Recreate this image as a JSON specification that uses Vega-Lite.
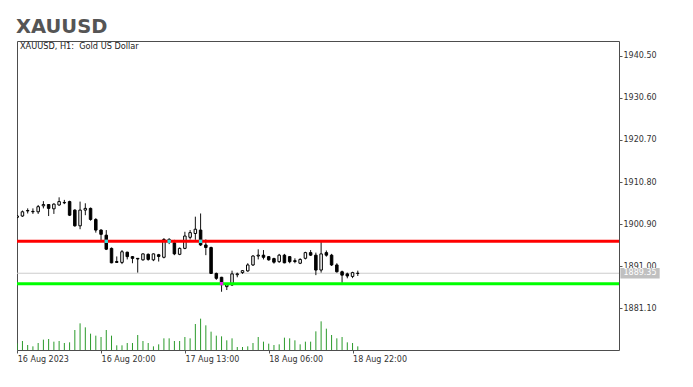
{
  "$schema": "https://vega.github.io/schema/vega-lite/v6.json",
  "width": 602,
  "height": 309,
  "autosize": "none",
  "padding": {"left": 17, "top": 41, "right": 74, "bottom": 37},
  "background": "white",
  "title": {"text": "XAUUSD", "anchor": "start", "frame": "group", "font": "DejaVu Sans", "fontSize": 19.5, "fontWeight": "bold", "color": "#555555", "offset": 4, "dx": -1},
  "config": {
    "font": "DejaVu Sans",
    "view": {"stroke": "#4d4d4d", "strokeWidth": 1},
    "scale": {"continuousPadding": 0},
    "axis": {"labelFont": "DejaVu Sans", "labelFontSize": 8, "labelColor": "#333333", "tickColor": "#555555", "domain": false, "grid": false}
  },
  "datasets": {
    "bars": [
      {"j":0,"o":1902.5,"h":1903.0,"l":1902.3,"c":1902.8,"v":500},
      {"j":1,"o":1902.8,"h":1904.1,"l":1902.6,"c":1903.8,"v":675},
      {"j":2,"o":1904.0,"h":1904.6,"l":1903.4,"c":1904.1,"v":375},
      {"j":3,"o":1903.9,"h":1904.6,"l":1903.3,"c":1903.8,"v":275},
      {"j":4,"o":1903.8,"h":1905.4,"l":1903.3,"c":1905.0,"v":525},
      {"j":5,"o":1905.2,"h":1906.3,"l":1904.6,"c":1905.5,"v":775},
      {"j":6,"o":1905.5,"h":1905.6,"l":1902.8,"c":1904.6,"v":825},
      {"j":7,"o":1904.5,"h":1905.8,"l":1903.3,"c":1905.6,"v":625},
      {"j":8,"o":1905.4,"h":1907.2,"l":1905.2,"c":1906.2,"v":675},
      {"j":9,"o":1906.0,"h":1906.6,"l":1905.6,"c":1905.9,"v":525},
      {"j":10,"o":1906.2,"h":1906.4,"l":1902.8,"c":1903.0,"v":575},
      {"j":11,"o":1904.2,"h":1904.4,"l":1900.3,"c":1900.5,"v":1500},
      {"j":12,"o":1900.5,"h":1906.2,"l":1899.7,"c":1904.2,"v":2000},
      {"j":13,"o":1904.2,"h":1905.8,"l":1903.0,"c":1904.6,"v":1700},
      {"j":14,"o":1904.6,"h":1904.8,"l":1901.7,"c":1902.0,"v":1225},
      {"j":15,"o":1902.0,"h":1902.3,"l":1898.9,"c":1899.5,"v":1075},
      {"j":16,"o":1899.5,"h":1899.7,"l":1896.8,"c":1898.5,"v":975},
      {"j":17,"o":1898.3,"h":1899.5,"l":1894.8,"c":1895.0,"v":1500},
      {"j":18,"o":1895.2,"h":1895.4,"l":1891.7,"c":1891.8,"v":1075},
      {"j":19,"o":1892.1,"h":1893.3,"l":1891.8,"c":1891.9,"v":350},
      {"j":20,"o":1891.9,"h":1894.8,"l":1891.5,"c":1894.4,"v":350},
      {"j":21,"o":1894.3,"h":1894.4,"l":1892.6,"c":1893.25,"v":525},
      {"j":22,"o":1893.25,"h":1893.4,"l":1891.7,"c":1892.85,"v":525},
      {"j":23,"o":1892.85,"h":1892.9,"l":1889.5,"c":1892.7,"v":1125},
      {"j":24,"o":1892.5,"h":1894.0,"l":1892.3,"c":1893.9,"v":675},
      {"j":25,"o":1893.8,"h":1894.0,"l":1892.3,"c":1892.6,"v":525},
      {"j":26,"o":1892.5,"h":1894.0,"l":1892.2,"c":1893.9,"v":275},
      {"j":27,"o":1893.7,"h":1893.9,"l":1892.1,"c":1893.3,"v":425},
      {"j":28,"o":1893.1,"h":1897.6,"l":1892.85,"c":1897.3,"v":875},
      {"j":29,"o":1897.3,"h":1897.6,"l":1896.2,"c":1896.6,"v":875},
      {"j":30,"o":1896.5,"h":1897.2,"l":1893.6,"c":1893.9,"v":675},
      {"j":31,"o":1893.8,"h":1895.4,"l":1893.6,"c":1895.2,"v":675},
      {"j":32,"o":1895.2,"h":1899.1,"l":1895.0,"c":1898.1,"v":975},
      {"j":33,"o":1897.8,"h":1899.5,"l":1897.3,"c":1898.9,"v":875},
      {"j":34,"o":1898.7,"h":1902.65,"l":1897.2,"c":1899.7,"v":1950},
      {"j":35,"o":1899.5,"h":1903.4,"l":1895.75,"c":1896.0,"v":2350},
      {"j":36,"o":1896.0,"h":1897.3,"l":1893.6,"c":1895.4,"v":1850},
      {"j":37,"o":1895.4,"h":1895.6,"l":1889.2,"c":1889.3,"v":1375},
      {"j":38,"o":1889.3,"h":1889.5,"l":1887.8,"c":1888.15,"v":1075},
      {"j":39,"o":1888.4,"h":1888.5,"l":1885.0,"c":1886.8,"v":1025},
      {"j":40,"o":1886.2,"h":1887.0,"l":1885.4,"c":1886.6,"v":725},
      {"j":41,"o":1886.6,"h":1889.95,"l":1886.35,"c":1889.2,"v":875},
      {"j":42,"o":1889.0,"h":1889.5,"l":1888.4,"c":1889.2,"v":225},
      {"j":43,"o":1889.5,"h":1890.1,"l":1889.2,"c":1889.95,"v":225},
      {"j":44,"o":1889.9,"h":1891.7,"l":1889.7,"c":1891.3,"v":275},
      {"j":45,"o":1891.3,"h":1893.6,"l":1891.05,"c":1893.4,"v":525},
      {"j":46,"o":1893.4,"h":1894.97,"l":1892.6,"c":1893.6,"v":975},
      {"j":47,"o":1893.6,"h":1894.8,"l":1892.6,"c":1893.1,"v":625},
      {"j":48,"o":1893.25,"h":1893.4,"l":1892.3,"c":1892.5,"v":475},
      {"j":49,"o":1892.8,"h":1893.0,"l":1891.6,"c":1891.95,"v":375},
      {"j":50,"o":1892.07,"h":1893.9,"l":1891.8,"c":1893.6,"v":425},
      {"j":51,"o":1893.6,"h":1893.9,"l":1891.7,"c":1891.8,"v":925},
      {"j":52,"o":1893.25,"h":1893.4,"l":1891.7,"c":1892.07,"v":875},
      {"j":53,"o":1892.3,"h":1892.86,"l":1891.7,"c":1892.1,"v":725},
      {"j":54,"o":1891.7,"h":1892.86,"l":1891.5,"c":1892.6,"v":425},
      {"j":55,"o":1892.86,"h":1894.4,"l":1892.6,"c":1894.2,"v":625},
      {"j":56,"o":1894.2,"h":1894.8,"l":1893.4,"c":1893.6,"v":625},
      {"j":57,"o":1893.6,"h":1894.2,"l":1888.9,"c":1890.1,"v":1400},
      {"j":58,"o":1890.1,"h":1896.8,"l":1889.5,"c":1893.9,"v":2150},
      {"j":59,"o":1894.2,"h":1894.7,"l":1893.25,"c":1893.6,"v":1600},
      {"j":60,"o":1893.6,"h":1893.9,"l":1891.05,"c":1891.3,"v":1125},
      {"j":61,"o":1891.3,"h":1891.7,"l":1889.5,"c":1889.7,"v":875},
      {"j":62,"o":1889.7,"h":1889.96,"l":1887.1,"c":1888.9,"v":975},
      {"j":63,"o":1889.2,"h":1889.5,"l":1888.16,"c":1888.7,"v":575},
      {"j":64,"o":1888.6,"h":1889.7,"l":1888.2,"c":1889.5,"v":525},
      {"j":65,"o":1889.3,"h":1889.96,"l":1888.7,"c":1889.35,"v":275}
    ],
    "levels": [
      {"level": "resistance", "price": 1896.86},
      {"level": "support", "price": 1886.9}
    ],
    "touches": [
      {"j": 17, "p": 1896.86, "kind": "resistance"},
      {"j": 29, "p": 1896.86, "kind": "resistance"},
      {"j": 35, "p": 1896.86, "kind": "resistance"},
      {"j": 39, "p": 1886.9, "kind": "support"}
    ],
    "last": [{"price": 1889.35}],
    "caption": [{"label": "XAUUSD, H1:\u00a0 Gold US Dollar"}]
  },
  "resolve": {"scale": {"y": "independent"}},
  "layer": [
    {
      "data": {"name": "bars"},
      "mark": {"type": "rule", "color": "#2a9a2a", "strokeWidth": 1, "clip": true},
      "encoding": {
        "x": {"field": "j", "type": "quantitative", "scale": {"domain": [-0.038, 114.85], "nice": false, "zero": false, "padding": 0},
              "axis": {"values": [0, 16, 32, 48, 64], "title": null, "tickSize": 3, "labelAlign": "left", "labelBaseline": "top", "labelPadding": 2, "labelFlush": false,
                       "labelExpr": "datum.value == 0 ? '16 Aug 2023' : datum.value == 16 ? '16 Aug 20:00' : datum.value == 32 ? '17 Aug 13:00' : datum.value == 48 ? '18 Aug 06:00' : '18 Aug 22:00'"}},
        "y": {"field": "v", "type": "quantitative", "scale": {"domain": [0, 23175], "nice": false, "padding": 0}, "axis": null},
        "y2": {"datum": 0}
      }
    },
    {
      "layer": [
        {
          "data": {"name": "last"},
          "mark": {"type": "rule", "color": "#cccccc", "strokeWidth": 1},
          "encoding": {
            "y": {"field": "price", "type": "quantitative", "scale": {"domain": [1871.30, 1943.96], "nice": false, "zero": false, "padding": 0},
                  "axis": {"orient": "right", "title": null, "values": [1881.1, 1891.0, 1900.9, 1910.8, 1920.7, 1930.6, 1940.5], "format": ".2f", "tickSize": 3, "labelPadding": 1, "labelBaseline": "middle", "labelFlush": false}}
          }
        },
        {
          "data": {"name": "bars"},
          "mark": {"type": "rule", "color": "#111111", "strokeWidth": 1, "clip": true},
          "encoding": {
            "x": {"field": "j", "type": "quantitative", "scale": {"domain": [-0.038, 114.85], "nice": false, "zero": false, "padding": 0},
                  "axis": {"values": [0, 16, 32, 48, 64], "title": null, "tickSize": 3, "labelAlign": "left", "labelBaseline": "top", "labelPadding": 2, "labelFlush": false,
                           "labelExpr": "datum.value == 0 ? '16 Aug 2023' : datum.value == 16 ? '16 Aug 20:00' : datum.value == 32 ? '17 Aug 13:00' : datum.value == 48 ? '18 Aug 06:00' : '18 Aug 22:00'"}},
            "y": {"field": "l", "type": "quantitative", "scale": {"domain": [1871.30, 1943.96], "nice": false, "zero": false, "padding": 0},
                  "axis": {"orient": "right", "title": null, "values": [1881.1, 1891.0, 1900.9, 1910.8, 1920.7, 1930.6, 1940.5], "format": ".2f", "tickSize": 3, "labelPadding": 1, "labelBaseline": "middle", "labelFlush": false}},
            "y2": {"field": "h"}
          }
        },
        {
          "data": {"name": "bars"},
          "mark": {"type": "bar", "width": 2.5, "stroke": "#000000", "strokeWidth": 1, "clip": true},
          "encoding": {
            "x": {"field": "j", "type": "quantitative", "scale": {"domain": [-0.038, 114.85], "nice": false, "zero": false, "padding": 0},
                  "axis": {"values": [0, 16, 32, 48, 64], "title": null, "tickSize": 3, "labelAlign": "left", "labelBaseline": "top", "labelPadding": 2, "labelFlush": false,
                           "labelExpr": "datum.value == 0 ? '16 Aug 2023' : datum.value == 16 ? '16 Aug 20:00' : datum.value == 32 ? '17 Aug 13:00' : datum.value == 48 ? '18 Aug 06:00' : '18 Aug 22:00'"}},
            "y": {"field": "o", "type": "quantitative", "scale": {"domain": [1871.30, 1943.96], "nice": false, "zero": false, "padding": 0},
                  "axis": {"orient": "right", "title": null, "values": [1881.1, 1891.0, 1900.9, 1910.8, 1920.7, 1930.6, 1940.5], "format": ".2f", "tickSize": 3, "labelPadding": 1, "labelBaseline": "middle", "labelFlush": false}},
            "y2": {"field": "c"},
            "fill": {"condition": {"test": "datum.c >= datum.o", "value": "#ffffff"}, "value": "#000000"}
          }
        },
        {
          "data": {"name": "levels"},
          "mark": {"type": "rule", "strokeWidth": 3},
          "encoding": {
            "y": {"field": "price", "type": "quantitative", "scale": {"domain": [1871.30, 1943.96], "nice": false, "zero": false, "padding": 0},
                  "axis": {"orient": "right", "title": null, "values": [1881.1, 1891.0, 1900.9, 1910.8, 1920.7, 1930.6, 1940.5], "format": ".2f", "tickSize": 3, "labelPadding": 1, "labelBaseline": "middle", "labelFlush": false}},
            "color": {"field": "level", "type": "nominal", "scale": {"domain": ["resistance", "support"], "range": ["#ff0000", "#00ff00"]}, "legend": null}
          }
        },
        {
          "data": {"name": "touches"},
          "mark": {"type": "point", "shape": "square", "filled": true, "size": 11, "opacity": 1},
          "encoding": {
            "x": {"field": "j", "type": "quantitative", "scale": {"domain": [-0.038, 114.85], "nice": false, "zero": false, "padding": 0},
                  "axis": {"values": [0, 16, 32, 48, 64], "title": null, "tickSize": 3, "labelAlign": "left", "labelBaseline": "top", "labelPadding": 2, "labelFlush": false,
                           "labelExpr": "datum.value == 0 ? '16 Aug 2023' : datum.value == 16 ? '16 Aug 20:00' : datum.value == 32 ? '17 Aug 13:00' : datum.value == 48 ? '18 Aug 06:00' : '18 Aug 22:00'"}},
            "y": {"field": "p", "type": "quantitative", "scale": {"domain": [1871.30, 1943.96], "nice": false, "zero": false, "padding": 0},
                  "axis": {"orient": "right", "title": null, "values": [1881.1, 1891.0, 1900.9, 1910.8, 1920.7, 1930.6, 1940.5], "format": ".2f", "tickSize": 3, "labelPadding": 1, "labelBaseline": "middle", "labelFlush": false}},
            "fill": {"field": "kind", "type": "nominal", "scale": {"domain": ["resistance", "support"], "range": ["#2ee6e6", "#e61ee6"]}, "legend": null}
          }
        },
        {
          "data": {"name": "last"},
          "mark": {"type": "bar", "height": 10.6, "color": "#c0c0c0"},
          "encoding": {
            "x": {"datum": 115.11, "type": "quantitative", "scale": {"domain": [-0.038, 114.85], "nice": false, "zero": false, "padding": 0},
                  "axis": {"values": [0, 16, 32, 48, 64], "title": null, "tickSize": 3, "labelAlign": "left", "labelBaseline": "top", "labelPadding": 2, "labelFlush": false,
                           "labelExpr": "datum.value == 0 ? '16 Aug 2023' : datum.value == 16 ? '16 Aug 20:00' : datum.value == 32 ? '17 Aug 13:00' : datum.value == 48 ? '18 Aug 06:00' : '18 Aug 22:00'"}},
            "x2": {"datum": 122.61},
            "y": {"field": "price", "type": "quantitative", "scale": {"domain": [1871.30, 1943.96], "nice": false, "zero": false, "padding": 0},
                  "axis": {"orient": "right", "title": null, "values": [1881.1, 1891.0, 1900.9, 1910.8, 1920.7, 1930.6, 1940.5], "format": ".2f", "tickSize": 3, "labelPadding": 1, "labelBaseline": "middle", "labelFlush": false}}
          }
        },
        {
          "data": {"name": "last"},
          "mark": {"type": "text", "color": "#ffffff", "fontSize": 8, "font": "DejaVu Sans", "align": "center", "baseline": "middle"},
          "encoding": {
            "x": {"datum": 118.86, "type": "quantitative", "scale": {"domain": [-0.038, 114.85], "nice": false, "zero": false, "padding": 0},
                  "axis": {"values": [0, 16, 32, 48, 64], "title": null, "tickSize": 3, "labelAlign": "left", "labelBaseline": "top", "labelPadding": 2, "labelFlush": false,
                           "labelExpr": "datum.value == 0 ? '16 Aug 2023' : datum.value == 16 ? '16 Aug 20:00' : datum.value == 32 ? '17 Aug 13:00' : datum.value == 48 ? '18 Aug 06:00' : '18 Aug 22:00'"}},
            "y": {"field": "price", "type": "quantitative", "scale": {"domain": [1871.30, 1943.96], "nice": false, "zero": false, "padding": 0},
                  "axis": {"orient": "right", "title": null, "values": [1881.1, 1891.0, 1900.9, 1910.8, 1920.7, 1930.6, 1940.5], "format": ".2f", "tickSize": 3, "labelPadding": 1, "labelBaseline": "middle", "labelFlush": false}},
            "text": {"field": "price", "type": "quantitative", "format": ".2f"}
          }
        },
        {
          "data": {"name": "caption"},
          "mark": {"type": "text", "color": "#222222", "fontSize": 8.2, "font": "DejaVu Sans", "align": "left", "baseline": "alphabetic", "dx": 3, "dy": 8},
          "encoding": {
            "x": {"datum": -0.038, "type": "quantitative", "scale": {"domain": [-0.038, 114.85], "nice": false, "zero": false, "padding": 0},
                  "axis": {"values": [0, 16, 32, 48, 64], "title": null, "tickSize": 3, "labelAlign": "left", "labelBaseline": "top", "labelPadding": 2, "labelFlush": false,
                           "labelExpr": "datum.value == 0 ? '16 Aug 2023' : datum.value == 16 ? '16 Aug 20:00' : datum.value == 32 ? '17 Aug 13:00' : datum.value == 48 ? '18 Aug 06:00' : '18 Aug 22:00'"}},
            "y": {"datum": 1943.96, "type": "quantitative", "scale": {"domain": [1871.30, 1943.96], "nice": false, "zero": false, "padding": 0},
                  "axis": {"orient": "right", "title": null, "values": [1881.1, 1891.0, 1900.9, 1910.8, 1920.7, 1930.6, 1940.5], "format": ".2f", "tickSize": 3, "labelPadding": 1, "labelBaseline": "middle", "labelFlush": false}},
            "text": {"field": "label", "type": "nominal"}
          }
        }
      ]
    }
  ]
}
